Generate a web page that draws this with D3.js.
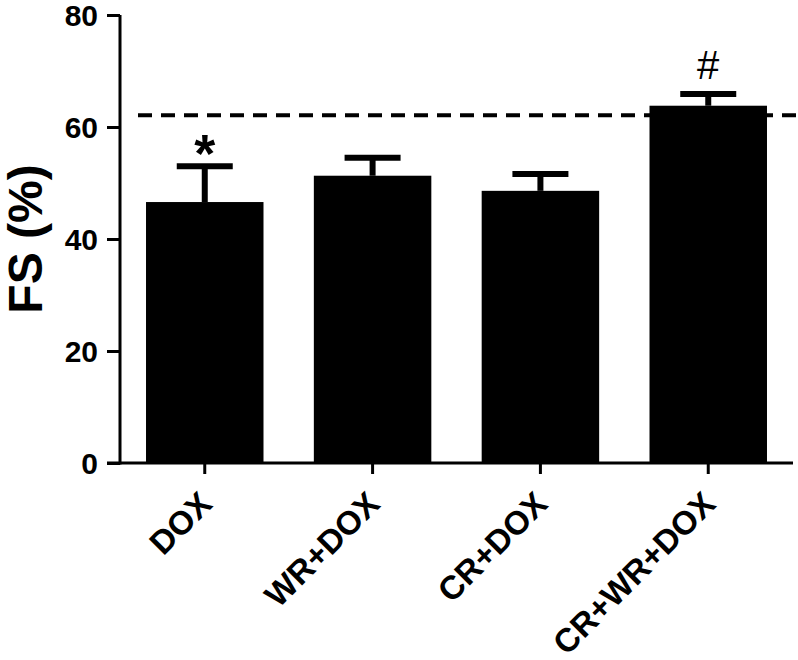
<!DOCTYPE html>
<html>
<head>
<meta charset="utf-8">
<script src="https://cdn.jsdelivr.net/npm/d3@7"></script>
<style>
  body { margin: 0; background: #fff; }
  text { font-family: Arial, "Liberation Sans", sans-serif; }
</style>
</head>
<body>
<script>
// groups and values
var grupos = ["DOX", "WR+DOX", "CR+DOX", "CR+WR+DOX"];
var medias = [46.6, 51.3, 48.6, 63.8];
var erros = [6.4, 3.2, 3.0, 2.1];
var marcas = ["*", "", "", "#"];
var referencia = 62.1;
var ticksY = [0, 20, 40, 60, 80];

var svg = d3.select("body").append("svg").attr("width", 798).attr("height", 660);

var y = d3.scaleLinear().domain([0, 80]).range([463, 15]);
var x = d3.scaleBand().domain(grupos).range([120, 793]).paddingInner(0.3).paddingOuter(0.155);

// linha tracejada de referencia (fica atras das barras)
svg.append("line")
  .attr("x1", 138).attr("x2", 798)
  .attr("y1", y(referencia)).attr("y2", y(referencia))
  .attr("stroke", "#000").attr("stroke-width", 4)
  .attr("stroke-dasharray", "14,9");

var dados = grupos.map(function (g, i) {
  return { nome: g, media: medias[i], erro: erros[i], marca: marcas[i] };
});

// barras de erro
var eb = svg.append("g").selectAll("g").data(dados).enter().append("g");
eb.append("line")
  .attr("x1", function (d) { return x(d.nome) + x.bandwidth() / 2; })
  .attr("x2", function (d) { return x(d.nome) + x.bandwidth() / 2; })
  .attr("y1", function (d) { return y(d.media); })
  .attr("y2", function (d) { return y(d.media + d.erro); })
  .attr("stroke", "#000").attr("stroke-width", 6);
eb.append("line")
  .attr("x1", function (d) { return x(d.nome) + x.bandwidth() / 2 - 28; })
  .attr("x2", function (d) { return x(d.nome) + x.bandwidth() / 2 + 28; })
  .attr("y1", function (d) { return y(d.media + d.erro); })
  .attr("y2", function (d) { return y(d.media + d.erro); })
  .attr("stroke", "#000").attr("stroke-width", 6);

// barras
svg.append("g").selectAll("rect").data(dados).enter().append("rect")
  .attr("x", function (d) { return x(d.nome); })
  .attr("y", function (d) { return y(d.media); })
  .attr("width", x.bandwidth())
  .attr("height", function (d) { return y(0) - y(d.media); })
  .attr("fill", "#000");

// marcas de significancia
svg.append("g").selectAll("text").data(dados).enter().append("text")
  .attr("x", function (d) { return x(d.nome) + x.bandwidth() / 2; })
  .attr("y", function (d) { return d.marca == "*" ? y(d.media + d.erro) + 6 : y(d.media + d.erro) - 15; })
  .attr("text-anchor", "middle")
  .style("font-size", function (d) { return d.marca == "*" ? "54px" : "40px"; })
  .style("font-weight", function (d) { return d.marca == "*" ? "bold" : "normal"; })
  .text(function (d) { return d.marca; });

// eixo Y
var eixoY = svg.append("g").attr("transform", "translate(120,0)")
  .call(d3.axisLeft(y).tickValues(ticksY).tickSize(13).tickPadding(9).tickFormat(d3.format("d")));
eixoY.select(".domain").attr("stroke-width", 3).attr("d", "M0," + y(80) + "V" + (y(0) + 1.5));
eixoY.selectAll(".tick line").attr("stroke-width", 3);
eixoY.selectAll(".tick text").style("font-size", "30px").style("font-weight", "bold")
  .style("font-family", "Arial, 'Liberation Sans', sans-serif").attr("fill", "#000")
  .attr("dy", "0.36em");

// eixo X
var eixoX = svg.append("g").attr("transform", "translate(0," + y(0) + ")")
  .call(d3.axisBottom(x).tickSize(11).tickSizeOuter(0));
eixoX.select(".domain").attr("stroke-width", 3).attr("d", "M107,0H793");
eixoX.selectAll(".tick line").attr("stroke-width", 3);
eixoX.selectAll(".tick text")
  .style("font-size", "33px").style("font-weight", "bold")
  .style("font-family", "Arial, 'Liberation Sans', sans-serif").attr("fill", "#000")
  .attr("text-anchor", "end")
  .attr("dy", null).attr("y", null)
  .attr("transform", "translate(9,43) rotate(-45)");

// titulo do eixo Y
svg.append("text")
  .attr("transform", "translate(42,239) rotate(-90)")
  .attr("text-anchor", "middle")
  .style("font-size", "48px").style("font-weight", "bold")
  .text("FS (%)");
</script>
</body>
</html>
